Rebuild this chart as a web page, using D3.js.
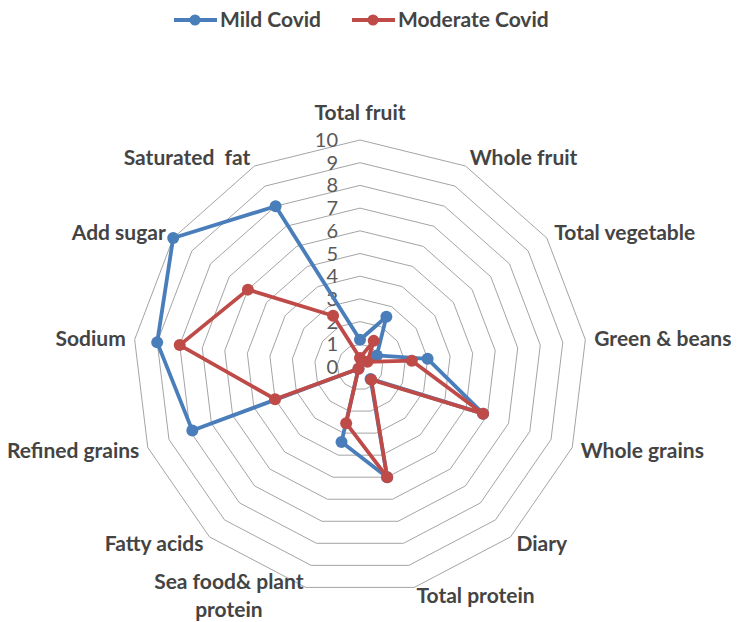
<!DOCTYPE html>
<html>
<head>
<meta charset="utf-8">
<script src="https://cdn.jsdelivr.net/npm/d3@7"></script>
<style>
  html, body { margin: 0; padding: 0; background: #fff; }
  svg text { font-family: Lato, "Open Sans", sans-serif; white-space: pre; }
</style>
</head>
<body>
<svg id="chart"></svg>
<script>
// categories, clockwise from the top
const categories = ["Total fruit", "Whole fruit", "Total vegetable", "Green & beans", "Whole grains",
  "Diary", "Total protein", "Sea food& plant protein", "Fatty acids", "Refined grains",
  "Sodium", "Add sugar", "Saturated  fat"];
const seriesNames = ["Mild Covid", "Moderate Covid"];
const mildValues = [1.2, 2.5, 0.9, 3.0, 5.8, 0.7, 5.0, 3.4, 0.1, 7.9, 9.0, 10.0, 8.0];
const moderateValues = [0.4, 1.3, 0.4, 2.3, 5.8, 0.75, 5.0, 2.55, 0.1, 4.0, 8.0, 6.0, 2.55];
const ticks = [0, 1, 2, 3, 4, 5, 6, 7, 8, 9, 10];

const W = 744, H = 622;
const cx = 360, cy = 367, R = 227;
const colors = ["#4a7ebb", "#be4b48"];
const labelSize = "21px";

const svg = d3.select("#chart").attr("width", W).attr("height", H);
const g = svg.append("g").attr("transform", `translate(${cx},${cy})`);

const n = categories.length;
const angle = i => i * 2 * Math.PI / n;
const r = d3.scaleLinear().domain([0, 10]).range([0, R]);

// rings
const ring = d3.lineRadial()
  .angle((d, i) => angle(i))
  .radius(d => r(d))
  .curve(d3.curveLinearClosed);

ticks.filter(t => t > 0).forEach(t => {
  g.append("path")
    .attr("d", ring(categories.map(() => t)))
    .attr("fill", "none")
    .attr("stroke", "#9a9a9a")
    .attr("stroke-width", 0.9);
});

// tick labels
g.selectAll(".tick")
  .data(ticks)
  .enter()
  .append("text")
  .attr("x", -22)
  .attr("y", d => -r(d))
  .attr("dy", "0.35em")
  .attr("text-anchor", "end")
  .style("font-size", "20px")
  .style("fill", "#595959")
  .text(d => d);

// series
const series = [mildValues, moderateValues];
series.forEach((vals, k) => {
  g.append("path")
    .attr("d", ring(vals))
    .attr("fill", "none")
    .attr("stroke", colors[k])
    .attr("stroke-width", 3.8)
    .attr("stroke-linejoin", "round");
  g.selectAll(".pt" + k)
    .data(vals)
    .enter()
    .append("circle")
    .attr("cx", (d, i) => d3.pointRadial(angle(i), r(d))[0])
    .attr("cy", (d, i) => d3.pointRadial(angle(i), r(d))[1])
    .attr("r", 6)
    .attr("fill", colors[k]);
});

// category labels
const addLabel = (x, y, anchor, txt) => g.append("text")
  .attr("x", x).attr("y", y).attr("dy", "0.35em")
  .attr("text-anchor", anchor)
  .style("font-size", labelSize)
  .style("font-weight", "bold")
  .style("fill", "#444")
  .text(txt);

categories.forEach((c, i) => {
  const [x, y] = d3.pointRadial(angle(i), R + 9);
  const s = Math.sin(angle(i));
  if (i === 0) {
    addLabel(x, y - 18, "middle", c);
  } else if (c === "Sea food& plant protein") {
    const t = addLabel(x, y - 14, "end", "Sea food& plant");
    const w = t.node().getComputedTextLength();
    addLabel(x - w / 2, y + 14, "middle", "protein");
  } else {
    addLabel(x, y, s > 0 ? "start" : "end", c);
  }
});

// legend
const legendX = [174, 352];
seriesNames.forEach((name, k) => {
  const lg = svg.append("g").attr("transform", `translate(${legendX[k]},20)`);
  lg.append("line").attr("x1", 0).attr("x2", 43).attr("y1", 0).attr("y2", 0)
    .attr("stroke", colors[k]).attr("stroke-width", 3.8);
  lg.append("circle").attr("cx", 21).attr("cy", 0).attr("r", 5.5).attr("fill", colors[k]);
  lg.append("text").attr("x", 46).attr("y", 0).attr("dy", "0.35em")
    .style("font-size", labelSize).style("font-weight", "bold").style("fill", "#444")
    .text(name);
});
</script>
</body>
</html>
